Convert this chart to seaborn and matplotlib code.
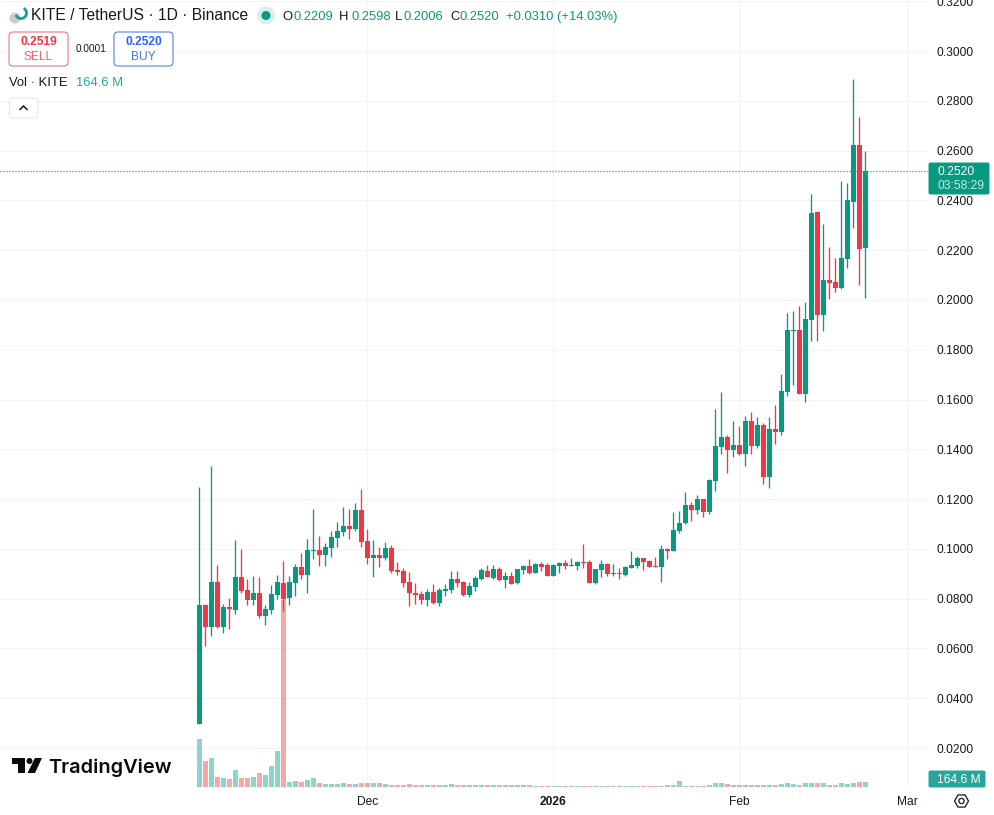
import matplotlib
matplotlib.use('Agg')
import matplotlib.pyplot as plt
from matplotlib.patches import Circle, FancyBboxPatch, Polygon, RegularPolygon, Arc
from matplotlib.transforms import Affine2D
import numpy as np
import pandas as pd
import seaborn as sns

# --- Daily candles, KITE/USDT ---
first_day = '2025-11-03'
opens = [
    .0297, .0775, .0688, .0867, .0688, .0767, .0755, .0887, .0835, .0795, .0823, .0730, .0755, .0815,
    .0863, .0803, .0863, .0927, .0895, .0991, .0995, .0975, .1004, .1044, .1068, .1092, .1080, .1156,
    .1032, .0963, .0975, .0963, .1003, .0915, .0911, .0867, .0823, .0819, .0795, .0827, .0783, .0831,
    .0835, .0879, .0867, .0815, .0847, .0879, .0911, .0883, .0919, .0875, .0891, .0863, .0915, .0931,
    .0903, .0939, .0935, .0891, .0931, .0943, .0930, .0931, .0947, .0947, .0863, .0915, .0939, .0899,
    .0903, .0895, .0923, .0931, .0963, .0951, .0931, .0927, .1000, .0992, .1072, .1104, .1176, .1156,
    .1200, .1148, .1273, .1409, .1449, .1397, .1417, .1381, .1514, .1413, .1498, .1289, .1482, .1470,
    .1630, .1876, .1879, .1622, .1919, .2353, .1940, .2080, .2072, .2048, .2165, .2393, .2622, .2209,
]
highs = [
    .1247, .0777, .1333, .0935, .0779, .0801, .1036, .1000, .0879, .0891, .0887, .0775, .0855, .0895,
    .0951, .0891, .0939, .0983, .1040, .1160, .1052, .1024, .1072, .1108, .1168, .1160, .1184, .1241,
    .1080, .1036, .1008, .1028, .1016, .0947, .0923, .0907, .0863, .0831, .0839, .0859, .0843, .0859,
    .0911, .0911, .0871, .0867, .0891, .0923, .0935, .0935, .0927, .0907, .0907, .0919, .0935, .0959,
    .0943, .0947, .0943, .0939, .0947, .0955, .0963, .0951, .1020, .0955, .0919, .0955, .0943, .0939,
    .0923, .0931, .0991, .0971, .0963, .0955, .0967, .1016, .1004, .1148, .1152, .1228, .1188, .1216,
    .1200, .1281, .1562, .1630, .1458, .1514, .1494, .1534, .1550, .1530, .1506, .1530, .1578, .1703,
    .1948, .1956, .1976, .1992, .2426, .2357, .2305, .2213, .2169, .2478, .2470, .2888, .2735, .2598,
]
lows = [
    .0296, .0610, .0650, .0682, .0663, .0678, .0738, .0823, .0775, .0775, .0722, .0694, .0739, .0799,
    .0751, .0775, .0811, .0879, .0823, .0959, .0931, .0931, .0967, .1008, .1052, .1040, .1072, .1008,
    .0939, .0887, .0927, .0955, .0903, .0895, .0847, .0770, .0778, .0778, .0770, .0778, .0770, .0811,
    .0823, .0847, .0811, .0807, .0831, .0875, .0887, .0879, .0871, .0843, .0859, .0859, .0899, .0899,
    .0903, .0911, .0891, .0891, .0903, .0919, .0931, .0915, .0923, .0863, .0859, .0887, .0891, .0891,
    .0879, .0891, .0923, .0923, .0915, .0927, .0927, .0867, .0959, .0992, .1064, .1100, .1112, .1140,
    .1128, .1140, .1233, .1381, .1305, .1369, .1377, .1333, .1381, .1405, .1261, .1245, .1421, .1458,
    .1614, .1658, .1622, .1590, .1835, .1835, .1875, .2004, .2032, .2044, .2128, .2289, .2060, .2006,
]
closes = [
    .0775, .0688, .0867, .0688, .0767, .0758, .0887, .0831, .0795, .0823, .0730, .0759, .0819, .0867,
    .0799, .0867, .0927, .0895, .0995, .0995, .0975, .1008, .1048, .1072, .1092, .1080, .1156, .1028,
    .0963, .0975, .0963, .1003, .0911, .0907, .0863, .0823, .0815, .0795, .0827, .0783, .0835, .0839,
    .0879, .0863, .0815, .0851, .0883, .0915, .0887, .0919, .0875, .0891, .0859, .0919, .0931, .0903,
    .0939, .0927, .0891, .0935, .0943, .0931, .0935, .0947, .0943, .0863, .0919, .0939, .0899, .0903,
    .0899, .0927, .0935, .0963, .0947, .0927, .0927, .1000, .0992, .1076, .1104, .1176, .1156, .1200,
    .1148, .1277, .1413, .1449, .1397, .1417, .1381, .1514, .1413, .1498, .1289, .1482, .1470, .1634,
    .1879, .1880, .1622, .1923, .2349, .1940, .2080, .2068, .2048, .2169, .2401, .2622, .2205, .2520,
]
volumes_m = [
    1680, 910, 1015, 350, 315, 280, 595, 315, 315, 350, 490, 420, 735, 1260,
    6545, 175, 210, 175, 245, 315, 140, 105, 105, 105, 140, 105, 105, 140,
    140, 140, 140, 105, 70, 70, 70, 105, 70, 70, 70, 70, 70, 70,
    105, 70, 70, 70, 70, 70, 70, 70, 70, 70, 70, 70, 70, 70,
    47, 47, 47, 47, 47, 47, 47, 47, 47, 47, 47, 47, 35, 35,
    35, 35, 47, 47, 35, 35, 47, 47, 70, 60, 200, 47, 23, 47,
    47, 58, 152, 152, 93, 82, 58, 58, 58, 58, 58, 58, 70, 105,
    128, 93, 70, 128, 152, 128, 128, 82, 82, 128, 105, 128, 160, 164.6,
]
price_ticks = [.02, .04, .06, .08, .10, .12, .14, .16, .18, .20, .22, .24, .26, .28, .30, .32]
month_dates = ['2025-12-01', '2026-01-01', '2026-02-01', '2026-03-01']
month_labels = ['Dec', '2026', 'Feb', 'Mar']
last_price = 0.2520

UP = '#089981'
DOWN = '#F23645'
INK = '#131722'
XLIM = (-33.217, 121.45)
YLIM = (0.00435, 0.3205)

sns.set_theme(style='whitegrid', rc={'grid.color': '#f0f3fa', 'grid.linewidth': 0.72})
plt.rcParams['font.family'] = ['Liberation Sans', 'DejaVu Sans']

df = pd.DataFrame({
    'date': pd.date_range(first_day, periods=len(opens), freq='D'),
    'open': opens, 'high': highs, 'low': lows, 'close': closes, 'volume': volumes_m,
})
df['day'] = (df['date'] - df['date'].iloc[0]).dt.days
df['side'] = np.where(df['close'] >= df['open'], 'up', 'down')
month_x = [(pd.Timestamp(d) - df['date'].iloc[0]).days for d in month_dates]

fig = plt.figure(figsize=(9.94, 8.15), dpi=100)
rect = [0, 28 / 815, 928 / 994, 787 / 815]

# three layers: grid at the back, then volume, then candles
ax_grid = fig.add_axes(rect, zorder=0)
ax_vol = fig.add_axes(rect, zorder=1)
ax = fig.add_axes(rect, zorder=2)
ax.patch.set_visible(False)

ax_grid.set_xlim(*XLIM)
ax_grid.set_ylim(*YLIM)
ax_grid.set_xticks(month_x)
ax_grid.set_yticks(price_ticks)
ax_grid.tick_params(length=0, labelbottom=False, labelleft=False)
ax_grid.grid(True)
sns.despine(ax=ax_grid, left=True, bottom=True, right=True, top=True)

# --- Volume ---
sns.barplot(data=df, x='day', y='volume', hue='side', native_scale=True, dodge=False,
            palette={'up': '#26a69a', 'down': '#ef5350'}, width=5 / 6, alpha=0.5,
            saturation=1, linewidth=0, legend=False, ax=ax_vol)
ax_vol.set_xlim(*XLIM)
ax_vol.set_ylim(0, 27545)
ax_vol.axis('off')

# --- Candles ---
colors = [UP if s == 'up' else DOWN for s in df['side']]
ax.vlines(df['day'], df['low'], df['high'], colors=colors, linewidth=0.95, zorder=3)
ax.bar(df['day'], (df['close'] - df['open']).abs(), bottom=df[['open', 'close']].min(axis=1),
       width=5 / 6, color=colors, linewidth=0, zorder=4)
ax.axhline(last_price, color=UP, linewidth=1.0, linestyle=(0, (0.72, 1.44)), zorder=5)

ax.set_xlim(*XLIM)
ax.set_ylim(*YLIM)
ax.yaxis.tick_right()
ax.set_yticks(price_ticks)
ax.set_yticklabels([f'{p:.4f}' for p in price_ticks])
ax.set_xticks(month_x)
ax.set_xticklabels(month_labels)
ax.get_xticklabels()[1].set_fontweight('bold')
ax.tick_params(axis='y', length=0, pad=6, labelsize=8.64, labelcolor=INK)
ax.tick_params(axis='x', length=0, pad=6.5, labelsize=8.64, labelcolor=INK)
ax.grid(False)
sns.despine(ax=ax, left=True, bottom=True, right=True, top=True)

# --- Everything around the plot, placed in pixels from the top left ---
px = Affine2D().scale(1, -1).translate(0, 815)


def label(x, y, s, size=12, color=INK, ha='left', **kw):
    fig.text(x, y + 0.8, s, transform=px, fontsize=size * 0.72, color=color, ha=ha, va='center',
             zorder=20, **kw)


def shape(patch):
    patch.set_transform(px)
    patch.set_zorder(15)
    fig.add_artist(patch)


def box(x0, y0, x1, y1, face, edge, r=4):
    shape(FancyBboxPatch((x0, y0), x1 - x0, y1 - y0, boxstyle=f'round,pad=0,rounding_size={r}',
                         facecolor=face, edgecolor=edge, linewidth=0.7))


# title row
shape(Circle((15, 18), 5.5, facecolor='#c9cbd0', edgecolor='none'))
shape(Arc((21, 13), 11, 11, theta1=-60, theta2=160, edgecolor='#14a098', linewidth=2))
label(31, 15, 'KITE / TetherUS · 1D · Binance', size=15.6)
shape(Circle((266, 15.5), 9, facecolor='#dcefec', edgecolor='none'))
shape(Circle((266, 15.5), 4.5, facecolor=UP, edgecolor='none'))
for x, s in [(282, 'O'), (339, 'H'), (395, 'L'), (450, 'C')]:
    label(x, 16, s, size=13)
for x, s in [(293, '0.2209'), (351, '0.2598'), (404, '0.2006'), (460, '0.2520'), (506, '+0.0310 (+14.03%)')]:
    label(x, 16, s, size=13, color=UP)

# sell / buy
box(9, 32, 68, 66, 'white', '#f0606e')
label(38.5, 41.5, '0.2519', color=DOWN, ha='center', fontweight='bold')
label(38.5, 56, 'SELL', color='#f0606e', ha='center')
label(91, 48, '0.0001', size=10, ha='center')
box(114, 32, 173, 66, 'white', '#3d6fe8')
label(143.5, 41.5, '0.2520', color='#2962ff', ha='center', fontweight='bold')
label(143.5, 56, 'BUY', color='#4a76e8', ha='center')

# volume legend and collapse button
label(9, 82, 'Vol · KITE', size=13)
label(76, 82, '164.6 M', size=13, color='#26a69a')
box(9.5, 98, 38, 118, 'white', '#e0e3eb', r=3)
shape(Polygon([(19.5, 110), (23.5, 106), (27.5, 110)], closed=False, fill=False,
              edgecolor=INK, linewidth=1.1))

# price and volume tags
box(929, 163, 989, 194, UP, UP, r=1.5)
label(937, 171.5, '0.2520', color='white')
label(937, 185.5, '03:58:29', color='#c4e8e1')
box(929, 771, 985, 787, '#26a69a', '#26a69a', r=1.5)
label(937, 779, '164.6 M', color='white')

# settings icon
shape(RegularPolygon((961.5, 801), 6, radius=7, orientation=np.pi / 2, facecolor='white',
                     edgecolor=INK, linewidth=0.9))
shape(Circle((961.5, 801), 2.6, facecolor='white', edgecolor=INK, linewidth=0.9))

# TradingView mark
shape(Polygon([(12, 758), (24.5, 758), (24.5, 773), (18, 773), (18, 764), (12, 764)],
              facecolor='#0b0b0b', edgecolor='none'))
shape(Circle((29.5, 761), 3, facecolor='#0b0b0b', edgecolor='none'))
shape(Polygon([(35, 758), (42, 758), (35, 773), (27.5, 773)], facecolor='#0b0b0b', edgecolor='none'))
label(48.5, 766.5, 'TradingView', size=20, color='#0b0b0b', family='Inter', fontweight='semibold')

fig.savefig('out.png', dpi=100)
